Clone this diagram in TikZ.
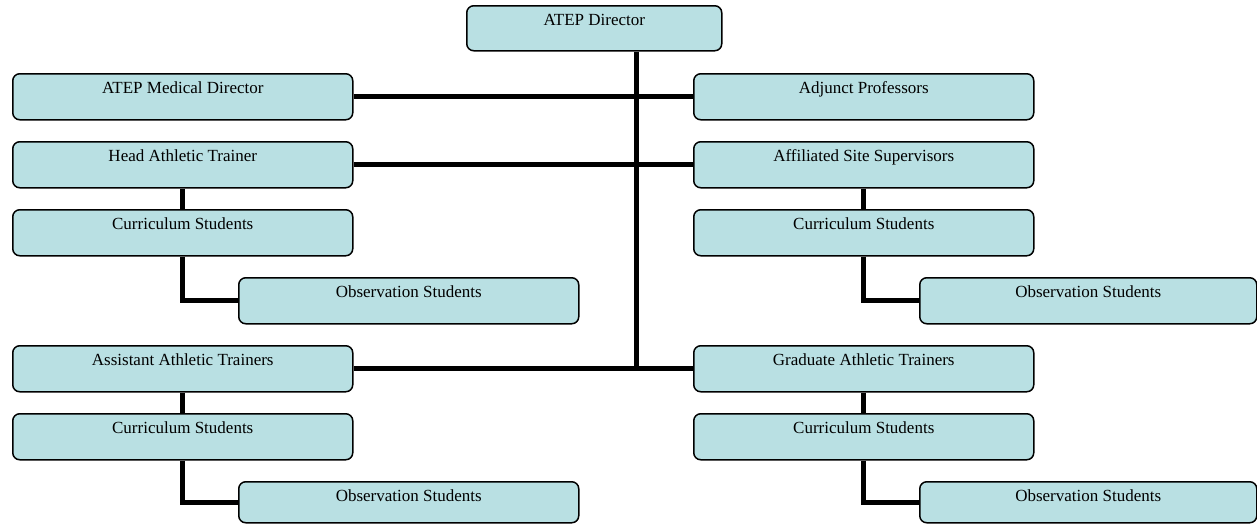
\documentclass[tikz,border=0pt]{standalone}
\usepackage{fontspec}
\setmainfont{Liberation Serif}
\definecolor{boxfill}{RGB}{185,224,227}
\begin{document}
\begin{tikzpicture}[x=1pt,y=-1pt,
  orgbox/.style={draw=black,line width=1.5pt,fill=boxfill,rounded corners=7pt,
    anchor=north west,minimum width=340pt,inner xsep=2pt,inner ysep=4pt,
    text height=16pt,text depth=22pt,font=\fontsize{17}{20}\selectfont},
  link/.style={line width=5pt,black}]
\useasboundingbox (0,0) rectangle (1257,525);
\coordinate (trunk) at (636,368);
\node[orgbox,minimum width=255pt,text depth=21pt] (dir) at (466,5) {ATEP Director};
\node[orgbox] (md) at (12,73) {ATEP Medical Director};
\node[orgbox] (ap) at (693,73) {Adjunct Professors};
\node[orgbox] (hat) at (12,141) {Head Athletic Trainer};
\node[orgbox] (ass) at (693,141) {Affiliated Site Supervisors};
\node[orgbox] (cs1) at (12,209) {Curriculum Students};
\node[orgbox] (cs2) at (693,209) {Curriculum Students};
\node[orgbox] (ob1) at (238,277) {Observation Students};
\node[orgbox,minimum width=337pt] (ob2) at (919,277) {Observation Students};
\node[orgbox] (aat) at (12,345) {Assistant Athletic Trainers};
\node[orgbox] (gat) at (693,345) {Graduate Athletic Trainers};
\node[orgbox] (cs3) at (12,413) {Curriculum Students};
\node[orgbox] (cs4) at (693,413) {Curriculum Students};
\node[orgbox,text depth=17pt] (ob3) at (238,481) {Observation Students};
\node[orgbox,minimum width=337pt,text depth=17pt] (ob4) at (919,481) {Observation Students};
\draw[link] (dir.south -| trunk) -- (trunk);
\draw[link] (md.east) -- (ap.west);
\draw[link] (hat.east) -- (ass.west);
\draw[link] (aat.east) -- (gat.west);
\draw[link] (hat.south) -- (cs1.north);
\draw[link] (ass.south) -- (cs2.north);
\draw[link] (aat.south) -- (cs3.north);
\draw[link] (gat.south) -- (cs4.north);
\draw[link] (cs1.south) |- (ob1.west);
\draw[link] (cs2.south) |- (ob2.west);
\draw[link] (cs3.south) |- (ob3.west);
\draw[link] (cs4.south) |- (ob4.west);
\end{tikzpicture}
\end{document}
